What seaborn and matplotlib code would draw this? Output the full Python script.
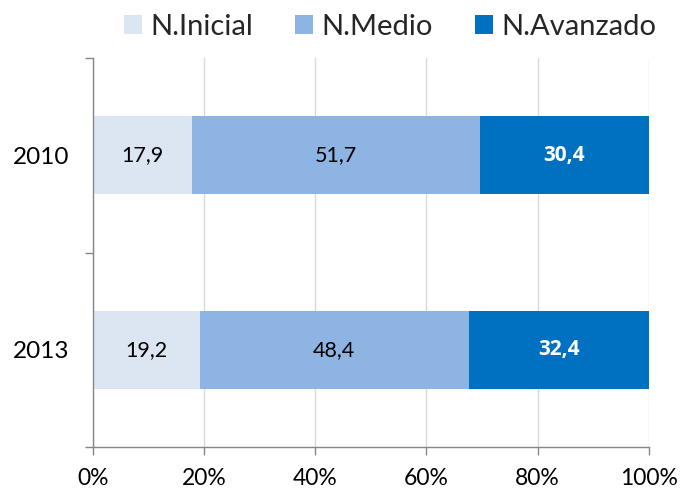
import numpy as np
import pandas as pd
import seaborn as sns
import matplotlib.pyplot as plt
from matplotlib.patches import Patch

years = ['2010', '2013']
levels = ['N.Inicial', 'N.Medio', 'N.Avanzado']
inicial = [17.9, 19.2]
medio = [51.7, 48.4]
avanzado = [30.4, 32.4]
colors = ['#DCE6F2', '#8EB4E3', '#0070C0']

sns.set_style('white')
plt.rcParams['font.family'] = ['Lato', 'DejaVu Sans']

df = pd.DataFrame({'year': years, 'N.Inicial': inicial,
                   'N.Medio': medio, 'N.Avanzado': avanzado})
df['c1'] = df['N.Inicial']
df['c2'] = df['c1'] + df['N.Medio']
df['c3'] = df['c2'] + df['N.Avanzado']

fig = plt.figure(figsize=(6.83, 4.92), dpi=100)
ax = fig.add_axes([0.136, 0.0915, 0.814, 0.7905])

# draw cumulative totals back to front
for col, color in zip(['c3', 'c2', 'c1'], colors[::-1]):
    sns.barplot(data=df, x=col, y='year', color=color, orient='h',
                width=0.4, saturation=1, ax=ax, linewidth=0)

ax.set_xlim(0, 100)
ax.set_ylim(1.5, -0.5)
ax.set_xticks([0, 20, 40, 60, 80, 100])
ax.set_xticklabels(['0%', '20%', '40%', '60%', '80%', '100%'])
ax.set_xlabel('')
ax.set_ylabel('')
ax.xaxis.grid(True, color='#D9D9D9', linewidth=1)
ax.set_axisbelow(True)

ax.set_yticks([0, 1])
ax.set_yticklabels(years)
ax.set_yticks([-0.5, 0.5, 1.5], minor=True)
ax.tick_params(axis='y', which='major', length=0, pad=17, labelsize=17.5,
               labelcolor='black')
ax.tick_params(axis='y', which='minor', length=6, color='#868686', width=1,
               direction='out', left=True)
ax.tick_params(axis='x', length=6, color='#868686', width=1, direction='out',
               bottom=True, labelsize=16.5, pad=9, labelcolor='black')

for s in ['top', 'right']:
    ax.spines[s].set_visible(False)
for s in ['left', 'bottom']:
    ax.spines[s].set_color('#868686')
    ax.spines[s].set_linewidth(1)

for i in range(len(years)):
    starts = [0, df['c1'][i], df['c2'][i]]
    vals = [inicial[i], medio[i], avanzado[i]]
    for j, (st, v) in enumerate(zip(starts, vals)):
        txt = f'{v:.1f}'.replace('.', ',')
        if j == 2:
            ax.text(st + v / 2, i, txt, ha='center', va='center',
                    color='white', fontsize=15, fontweight='bold',
                    family=['Open Sans', 'DejaVu Sans'])
        else:
            ax.text(st + v / 2, i, txt, ha='center', va='center',
                    color='black', fontsize=15.5)

handles = [Patch(facecolor=c, edgecolor='none') for c in colors]
ax.legend(handles, levels, loc='lower center', bbox_to_anchor=(0.535, 0.995),
          ncol=3, frameon=False, fontsize=21, handlelength=0.6,
          handleheight=0.6, handletextpad=0.3, columnspacing=1.45,
          borderpad=0.2)

fig.savefig('out.png', dpi=100)
